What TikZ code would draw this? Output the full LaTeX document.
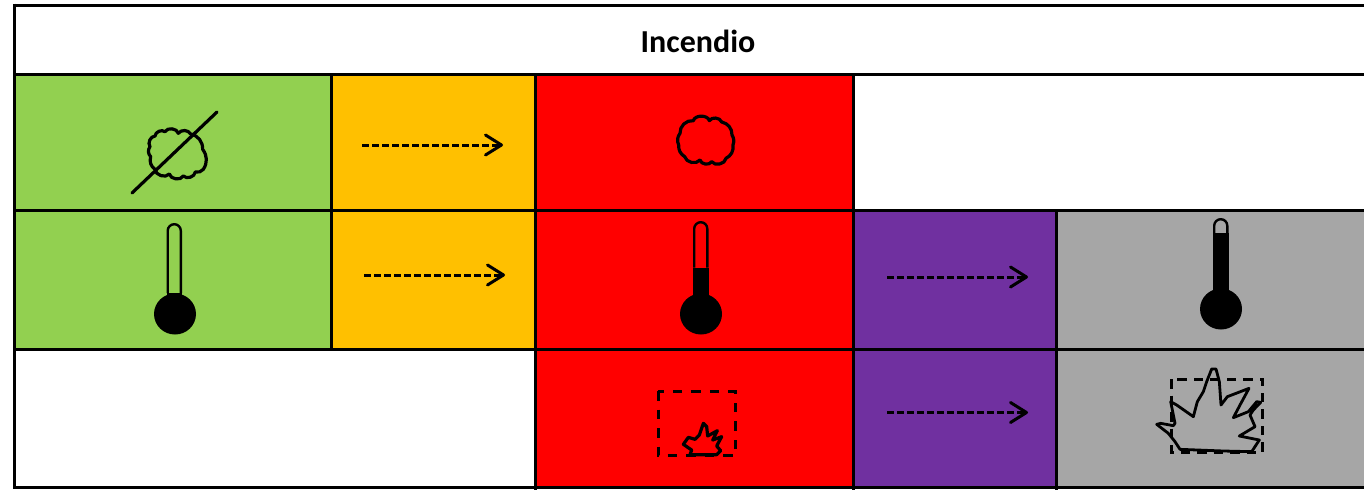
\documentclass[tikz,border=0pt]{standalone}
\usepackage{fontspec}
\setmainfont{Carlito}
\usetikzlibrary{arrows.meta}
\definecolor{cgreen}{HTML}{92D050}
\definecolor{corange}{HTML}{FFC000}
\definecolor{cred}{HTML}{FF0000}
\definecolor{cpurple}{HTML}{7030A0}
\definecolor{cgrey}{HTML}{A6A6A6}
\newcommand{\gridcell}[6]{%
  \pgfmathsetmacro{\cw}{#4-#2}\pgfmathsetmacro{\ch}{#5-#3}%
  \node[cellbox,fill=#6,minimum width=\cw pt,minimum height=\ch pt] (#1) at ({(#2+#4)/2},{(#3+#5)/2}) {};}
\newcommand{\thermo}[7]{% name, xleft, xright, ytop, yfill, bulbx, bulby
  \pgfmathsetmacro{\rr}{(#3-#2)/2-1.2}
  \draw[iconline,line width=2.4pt,line cap=butt] ({#2+1.2},#5) -- ({#2+1.2},{#4+1.2+\rr}) arc[start angle=180,end angle=360,radius=\rr] -- ({#3-1.2},#5);
  \fill (#2,#5) rectangle (#3,#7);
  \fill (#6,#7) ellipse[x radius=21,y radius=20.5];
  \coordinate (#1) at (#6,#7);}
\tikzset{
  x=1pt,y=-1pt,
  cellbox/.style={draw=none,inner sep=0pt,outer sep=0pt,rectangle},
  gridline/.style={line width=3pt,black},
  iconline/.style={line width=3.2pt,black,line join=round,line cap=round},
  flowarrow/.style={line width=3pt,black,dash pattern=on 7pt off 3pt,-{Straight Barb[length=16pt,width=20pt,line width=3pt,round]}},
  dashbox/.style={line width=3pt,black,dash pattern=on 9.5pt off 9pt},
  dashboxB/.style={line width=3pt,black,dash pattern=on 9.5pt off 7pt},
  zoomed/.style={x=0.33333pt,y=-0.33333pt},
  lobe/.style={bend left=#1},
  lobe/.default=60,
}
\begin{document}
\begin{tikzpicture}
\useasboundingbox (0,0) rectangle (1364,490);
\begin{scope}
\clip (0,0) rectangle (1364,490);
\gridcell{title}{14}{5}{1380}{74}{white}
\gridcell{smokeA}{14}{74}{331}{210}{cgreen}
\gridcell{smokeB}{331}{74}{535}{210}{corange}
\gridcell{smokeC}{535}{74}{853}{210}{cred}
\gridcell{tempA}{14}{210}{331}{349}{cgreen}
\gridcell{tempB}{331}{210}{535}{349}{corange}
\gridcell{tempC}{535}{210}{853}{349}{cred}
\gridcell{tempD}{853}{210}{1056}{349}{cpurple}
\gridcell{tempE}{1056}{210}{1380}{349}{cgrey}
\gridcell{fireC}{535}{349}{853}{487}{cred}
\gridcell{fireD}{853}{349}{1056}{487}{cpurple}
\gridcell{fireE}{1056}{349}{1380}{487}{cgrey}
\node[font=\bfseries\fontsize{32}{36}\selectfont,inner sep=0pt] (label) at (698,41) {Incendio};
% grid
\draw[gridline] (13,5) -- (1380,5);
\draw[gridline] (13,74) -- (1380,74);
\draw[gridline] (13,210) -- (1380,210);
\draw[gridline] (13,349) -- (1380,349);
\draw[gridline] (13,487.5) -- (1380,487.5);
\draw[gridline] (14,3.5) -- (14,489);
\draw[gridline] (331,74) -- (331,349);
\draw[gridline] (535.5,74) -- (535.5,490);
\draw[gridline] (853,74) -- (853,490);
\draw[gridline] (1056.5,210) -- (1056.5,490);
% clouds
\begin{scope}[shift={(120,90)},zoomed]
\draw[iconline] (105,238) to[lobe=35] (92,200) to[lobe=40] (90,170) to[lobe] (105,138) to[lobe] (135,125) to[lobe=70] (175,130) to[lobe] (212,132) to[lobe=40] (248,178) to[lobe=35] (250,238) to[lobe=30] (226,246) to[lobe=65] (190,258) to[lobe=70] (148,252) to[lobe=70] (105,238) -- cycle;
\end{scope}
\coordinate (strikeA) at (132,193);
\coordinate (strikeB) at (217,112);
\draw[iconline] (strikeA) -- (strikeB);
\begin{scope}[shift={(660,100)},zoomed]
\draw[iconline] (74,170) to[lobe=30] (56,135) to[lobe=30] (60,100) to[lobe=50] (100,62) to[lobe=75] (148,62) to[lobe=65] (185,66) to[lobe=40] (216,105) to[lobe=25] (219,135) to[lobe=35] (198,175) to[lobe=70] (155,185) to[lobe=70] (120,180) to[lobe=65] (74,170) -- cycle;
\end{scope}
% arrows
\coordinate (a1s) at (362,145); \coordinate (a1e) at (503,145);
\coordinate (a2s) at (364,275); \coordinate (a2e) at (505,275);
\coordinate (a3s) at (887,277); \coordinate (a3e) at (1028,277);
\coordinate (a4s) at (887,412.5); \coordinate (a4e) at (1028,412.5);
\draw[flowarrow] (a1s) -- (a1e);
\draw[flowarrow] (a2s) -- (a2e);
\draw[flowarrow] (a3s) -- (a3e);
\draw[flowarrow] (a4s) -- (a4e);
% thermometers
\thermo{thA}{166.5}{182}{223}{293}{175}{314}
\thermo{thB}{693}{708.5}{221}{267.5}{701}{314}
\thermo{thC}{1213}{1228.5}{218}{233}{1221}{309}
% fires
\draw[dashbox] (658,391) rectangle (735,455.5);
\begin{scope}[shift={(640,360)},zoomed]
\draw[iconline] (130,253) -- (145,232) -- (165,238) -- (178,225) -- (190,190) -- (200,200) -- (203,228) -- (232,212) -- (218,240) -- (245,230) -- (230,258) -- (242,272) -- (230,284) -- (150,284) -- (155,270) -- cycle;
\end{scope}
\draw[dashboxB] (1171,379) rectangle (1262.5,452);
\begin{scope}[shift={(1140,355)},zoomed]
\draw[iconline,line width=2.8pt] (50,208) -- (62,205) -- (100,212) -- (105,205) -- (92,140) -- (110,150) -- (160,185) -- (172,140) -- (190,110) -- (200,80) -- (215,42) -- (228,42) -- (238,80) -- (243,150) -- (262,125) -- (327,100) -- (300,150) -- (280,188) -- (325,170) -- (350,140) -- (362,142) -- (340,165) -- (330,180) -- (345,215) -- (298,243) -- (358,255) -- (335,290) -- (250,288) -- (120,283) -- (105,260) -- (85,235) -- cycle;
\end{scope}
\end{scope}
\end{tikzpicture}
\end{document}
